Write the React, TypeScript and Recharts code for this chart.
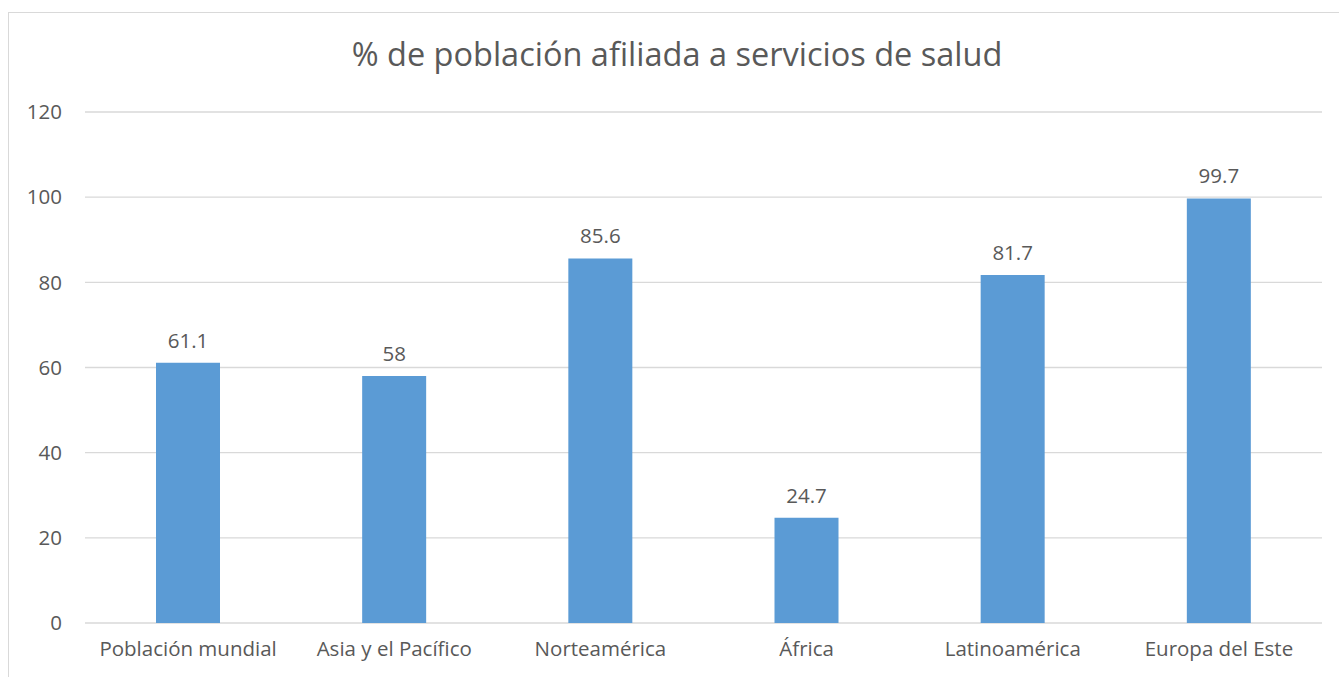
import { BarChart, Bar, XAxis, YAxis, CartesianGrid, LabelList } from 'recharts';

const regions = [
  'Población mundial',
  'Asia y el Pacífico',
  'Norteamérica',
  'África',
  'Latinoamérica',
  'Europa del Este',
];
const coverage = [61.1, 58, 85.6, 24.7, 81.7, 99.7];
const yTicks = [0, 20, 40, 60, 80, 100, 120];

const chartTitle = '% de población afiliada a servicios de salud';

const data = regions.map((name, i) => ({ name, value: coverage[i] }));

const font = '"Open Sans", sans-serif';
const textColor = '#595959';

export default function App() {
  return (
    <div
      style={{
        position: 'absolute',
        left: 0,
        top: 0,
        width: 1339,
        height: 677,
        overflow: 'hidden',
        background: '#fff',
        fontFamily: font,
      }}
    >
      {/* chart frame, right and bottom edges fall outside the picture */}
      <div
        style={{
          position: 'absolute',
          left: 8,
          top: 12,
          width: 1360,
          height: 700,
          border: '1.5px solid #D9D9D9',
        }}
      />
      <div
        style={{
          position: 'absolute',
          left: 0,
          width: 1354,
          top: 34,
          textAlign: 'center',
          fontSize: 32.5,
          color: textColor,
          lineHeight: '40px',
        }}
      >
        {chartTitle}
      </div>
      <div style={{ position: 'absolute', left: 0, top: 0 }}>
        <BarChart
          width={1339}
          height={677}
          data={data}
          margin={{ top: 112, right: 17, left: 25, bottom: 14 }}
        >
          <CartesianGrid vertical={false} stroke="#D9D9D9" strokeWidth={1.3} />
          <XAxis
            dataKey="name"
            axisLine={false}
            tickLine={false}
            tickSize={0}
            tickMargin={18}
            height={40}
            interval={0}
            tick={{ fill: textColor, fontSize: 20.5, fontFamily: font }}
          />
          <YAxis
            domain={[0, 120]}
            ticks={yTicks}
            axisLine={false}
            tickLine={false}
            tickSize={0}
            tickMargin={23}
            width={60}
            tick={{ fill: textColor, fontSize: 20.5, fontFamily: font }}
          />
          <Bar dataKey="value" fill="#5B9BD5" barSize={64} isAnimationActive={false}>
            <LabelList
              dataKey="value"
              position="top"
              offset={15}
              fill={textColor}
              fontSize={20.5}
              fontFamily={font}
            />
          </Bar>
        </BarChart>
      </div>
    </div>
  );
}
